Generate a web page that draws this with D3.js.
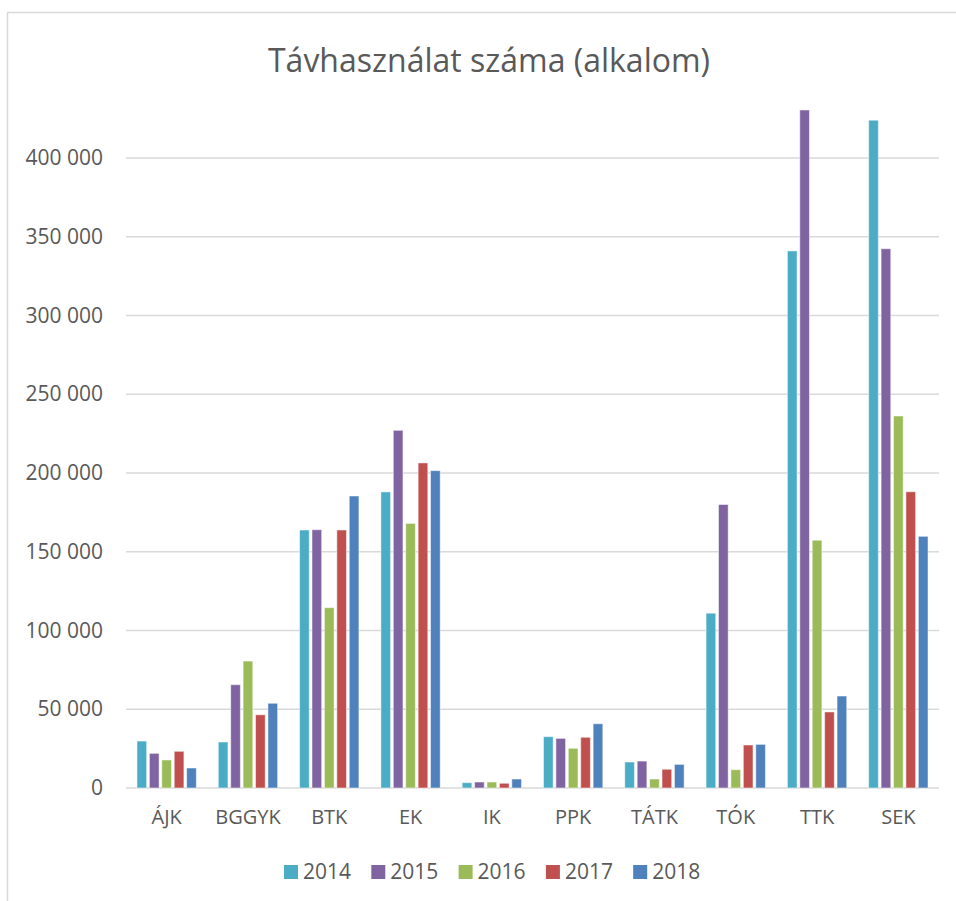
<!DOCTYPE html>
<html>
<head>
<meta charset="utf-8">
<script src="https://cdn.jsdelivr.net/npm/d3@7"></script>
<style>
  body { margin: 0; background: #fff; }
  svg { display: block; font-family: "Open Sans", Lato, sans-serif; }
</style>
</head>
<body>
<svg id="chart" width="956" height="901"></svg>
<script>
const categories = ["ÁJK", "BGGYK", "BTK", "EK", "IK", "PPK", "TÁTK", "TÓK", "TTK", "SEK"]
const years = ["2014", "2015", "2016", "2017", "2018"]
const colors = ["#4bacc6", "#8064a2", "#9bbb59", "#c0504d", "#4f81bd"]

const v2014 = [29800, 29200, 163800, 188000, 3400, 32600, 16500, 111000, 341000, 424000]
const v2015 = [22000, 65600, 164000, 227100, 3800, 31500, 17100, 180000, 430500, 342400]
const v2016 = [17800, 80600, 114500, 168000, 3800, 25200, 5700, 11600, 157300, 236200]
const v2017 = [23300, 46500, 163800, 206400, 3000, 32200, 11900, 27300, 48300, 188100]
const v2018 = [12700, 53800, 185400, 201500, 5700, 40800, 15000, 27700, 58400, 159800]
const series = [v2014, v2015, v2016, v2017, v2018]

const yTicks = [0, 50000, 100000, 150000, 200000, 250000, 300000, 350000, 400000]

const svg = d3.select("#chart")

// chart frame
svg.append("rect")
    .attr("x", 7.5).attr("y", 12.5)
    .attr("width", 1000).attr("height", 1000)
    .attr("fill", "none")
    .attr("stroke", "#d9d9d9")
    .attr("stroke-width", 1.5)

svg.append("text")
    .attr("x", 489).attr("y", 72)
    .attr("text-anchor", "middle")
    .attr("fill", "#595959")
    .style("font-size", "32px")
    .text("Távhasználat száma (alkalom)")

const plotLeft = 126, plotRight = 939, plotTop = 158, plotBottom = 788

const x = d3.scaleBand()
    .domain(categories)
    .range([plotLeft, plotRight])
    .paddingInner(0.27)
    .paddingOuter(0.135)

const xInner = d3.scaleBand()
    .domain(years)
    .range([0, x.bandwidth()])
    .paddingInner(0.22)

const y = d3.scaleLinear()
    .domain([0, 400000])
    .range([plotBottom, plotTop])

const fmt = d => d3.format(",")(d).replace(/,/g, " ")

// gridlines
const grid = svg.append("g")
grid.selectAll("line")
    .data(yTicks)
    .enter()
    .append("line")
    .attr("x1", plotLeft).attr("x2", plotRight)
    .attr("y1", d => y(d)).attr("y2", d => y(d))
    .attr("stroke", "#d9d9d9")
    .attr("stroke-width", 1.5)

const yAxis = svg.append("g")
    .attr("transform", `translate(${plotLeft - 23},0)`)
    .call(d3.axisLeft(y).tickValues(yTicks).tickFormat(fmt).tickSize(0).tickPadding(0))
yAxis.select(".domain").remove()
yAxis.selectAll("text")
    .attr("fill", "#595959")
    .style("font-size", "21px")
    .style("font-family", "'Open Sans', Lato, sans-serif")

// bars
years.forEach((yr, i) => {
    svg.append("g")
        .selectAll("rect")
        .data(series[i])
        .enter()
        .append("rect")
        .attr("x", (d, j) => x(categories[j]) + xInner(yr))
        .attr("y", d => y(d))
        .attr("width", xInner.bandwidth())
        .attr("height", d => y(0) - y(d))
        .attr("fill", colors[i])
        .attr("stroke", "#ffffff")
        .attr("stroke-opacity", 0.5)
        .attr("stroke-width", 1)
})

const xAxis = svg.append("g")
    .attr("transform", `translate(0,${plotBottom + 22})`)
    .call(d3.axisBottom(x).tickSize(0).tickPadding(0))
xAxis.select(".domain").remove()
xAxis.selectAll("text")
    .attr("fill", "#595959")
    .style("font-size", "20px")
    .style("font-family", "'Open Sans', Lato, sans-serif")

// legend
const legend = svg.append("g")
    .selectAll("g")
    .data(years)
    .enter()
    .append("g")
    .attr("transform", (d, i) => `translate(${284 + i * 87.3},865)`)

legend.append("rect")
    .attr("width", 14).attr("height", 14)
    .attr("fill", (d, i) => colors[i])

legend.append("text")
    .attr("x", 19).attr("y", 14)
    .attr("fill", "#595959")
    .style("font-size", "21px")
    .text(d => d)
</script>
</body>
</html>
